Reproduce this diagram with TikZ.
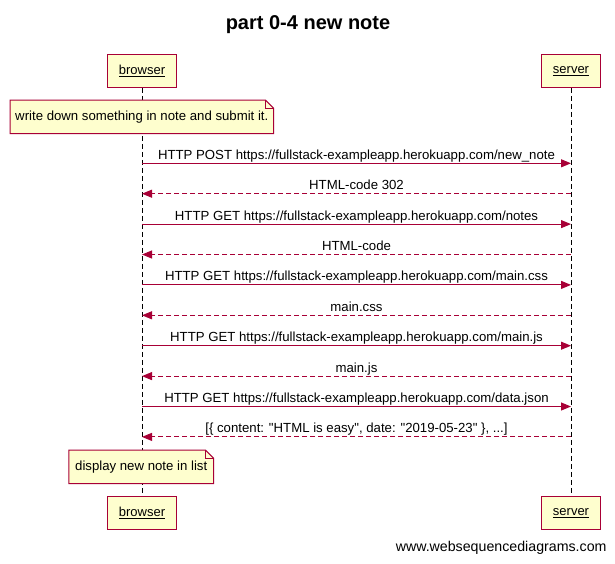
\documentclass[tikz,border=0pt]{standalone}
\usepackage{fontspec}
\setmainfont{Liberation Sans}[Ligatures=TeXOff]
\usetikzlibrary{arrows.meta,backgrounds}
\definecolor{boxfill}{HTML}{FEFECE}
\definecolor{boxline}{HTML}{A80036}

\tikzset{
  actor/.style={draw=boxline,fill=boxfill,line width=1pt,minimum height=33pt,
    inner sep=0pt,font=\fontsize{13}{15}\selectfont},
  note/.style={minimum height=33pt,inner sep=0pt,font=\fontsize{13.2}{15}\selectfont},
  notebody/.style={draw=boxline,fill=boxfill,line width=1pt},
  lifeline/.style={draw=black,line width=1pt,dash pattern=on 5pt off 3pt},
  call/.style={draw=boxline,line width=1pt},
  reply/.style={draw=boxline,line width=1pt,dash pattern=on 5pt off 3pt},
  msg/.style={anchor=base,yshift=4pt,text=black,font=\fontsize{13.2}{15}\selectfont}
}

\begin{document}
\begin{tikzpicture}[x=1pt,y=-1pt,>={Triangle[length=10pt,width=8pt]}]

  \useasboundingbox (0,0) rectangle (615,563);

  \node[font=\bfseries\fontsize{20}{24}\selectfont,anchor=base] (title) at (308,29.5) {part 0-4 new note};

  % actors, top and bottom
  \node[actor,minimum width=69.4pt] (browserTop) at (142,70.8)  {\underline{browser}};
  \node[actor,minimum width=59.4pt] (serverTop)  at (571,70.8)  {\underline{server}};
  \node[actor,minimum width=69.4pt] (browserBot) at (142,512.8) {\underline{browser}};
  \node[actor,minimum width=59.4pt] (serverBot)  at (571,512.8) {\underline{server}};

  % notes
  \node[note,minimum width=263pt]   (noteWrite) at (141.8,116.8) {write down something in note and submit it.};
  \node[note,minimum width=144.3pt] (noteShow)  at (141.2,466.8) {display new note in list};

  \begin{scope}[on background layer]
    \fill[white] (0,0) rectangle (615,563);
    \draw[lifeline] (browserTop.south) -- (browserBot.north);
    \draw[lifeline] (serverTop.south) -- (serverBot.north);
    \foreach \n in {noteWrite,noteShow}
      \draw[notebody] (\n.south west) -- (\n.north west) -- ([xshift=-8pt]\n.north east)
        -- ([yshift=-8pt]\n.north east) -- (\n.south east) -- cycle;
  \end{scope}
  \foreach \n in {noteWrite,noteShow}
    \draw[boxline,line width=1pt] ([xshift=-8pt]\n.north east) |- ([yshift=-8pt]\n.north east);

  % message ends on the lifelines
  \foreach \i in {1,...,10} {
    \coordinate (b\i) at (browserTop.south |- 0,{163.3+30.4*(\i-1)});
    \coordinate (s\i) at (serverTop.south |- 0,{163.3+30.4*(\i-1)});
  }

  \path[->]
    (b1) edge[call]  node[msg] {HTTP POST https://fullstack-exampleapp.herokuapp.com/new\_note} (s1)
    (s2) edge[reply] node[msg] {HTML-code 302} (b2)
    (b3) edge[call]  node[msg] {HTTP GET https://fullstack-exampleapp.herokuapp.com/notes} (s3)
    (s4) edge[reply] node[msg] {HTML-code} (b4)
    (b5) edge[call]  node[msg] {HTTP GET https://fullstack-exampleapp.herokuapp.com/main.css} (s5)
    (s6) edge[reply] node[msg] {main.css} (b6)
    (b7) edge[call]  node[msg] {HTTP GET https://fullstack-exampleapp.herokuapp.com/main.js} (s7)
    (s8) edge[reply] node[msg] {main.js} (b8)
    (b9) edge[call]  node[msg] {HTTP GET https://fullstack-exampleapp.herokuapp.com/data.json} (s9)
    (s10) edge[reply] node[msg] {[\{ content: "HTML is easy", date: "2019-05-23" \}, ...]} (b10);

  \node[anchor=base east,inner sep=0pt,font=\fontsize{14.2}{17}\selectfont] (footer) at (606.7,551.7) {www.websequencediagrams.com};

\end{tikzpicture}
\end{document}
